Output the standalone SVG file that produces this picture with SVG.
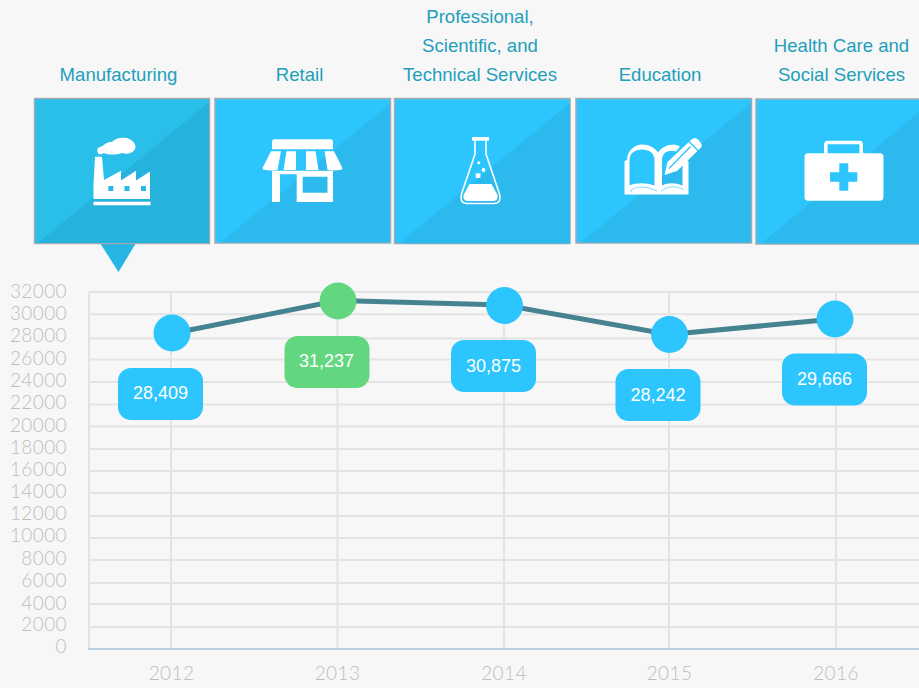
<svg xmlns="http://www.w3.org/2000/svg" width="919" height="688" viewBox="0 0 919 688">
<style>
.cat{font:18.600px "Liberation Sans",Arial,sans-serif;fill:#1f9fbb;text-anchor:middle}
.ax{font:300 19px Lato,"Open Sans",sans-serif;fill:#bebebe;letter-spacing:.4px}
.yl{text-anchor:end}
.xl{text-anchor:middle}
.grid{stroke:#e3e3e3;stroke-width:2;fill:none}
.tile{stroke:#a3abb0;stroke-width:1.5}
.dk{fill:#2bb9ee}
.ic{fill:#fff}
.pt{fill:#2cc5fe}
.val{font:18px "Liberation Sans",Arial,sans-serif;fill:#fff;text-anchor:middle}
</style>
<rect width="919" height="688" fill="#f7f7f7"/>
<g id="grid">
<path class="grid" d="M89 292H919M89 314.300H919M89 338.500H919M89 359.500H919M89 382H919M89 404.500H919M89 426.500H919M89 449H919M89 471H919M89 493H919M89 516H919M89 538H919M89 560H919M89 583H919M89 604H919M89 627H919"/>
<path class="grid" d="M89 292V648M171 292V648M337.500 292V648M504 292V648M669 292V648M836 292V648"/>
<path d="M88 649H919" stroke="#bccfe0" stroke-width="2" fill="none"/>
</g>
<g id="y-axis">
<text class="ax yl" x="67" y="298">32000</text><text class="ax yl" x="67" y="320">30000</text><text class="ax yl" x="67" y="342">28000</text><text class="ax yl" x="67" y="365">26000</text><text class="ax yl" x="67" y="387">24000</text><text class="ax yl" x="67" y="409">22000</text><text class="ax yl" x="67" y="432">20000</text><text class="ax yl" x="67" y="454">18000</text><text class="ax yl" x="67" y="476">16000</text><text class="ax yl" x="67" y="498">14000</text><text class="ax yl" x="67" y="520">12000</text><text class="ax yl" x="67" y="542">10000</text><text class="ax yl" x="67" y="565">8000</text><text class="ax yl" x="67" y="587">6000</text><text class="ax yl" x="67" y="610">4000</text><text class="ax yl" x="67" y="631">2000</text><text class="ax yl" x="67" y="653">0</text>
</g>
<g id="x-axis">
<text class="ax xl" x="171.500" y="680">2012</text><text class="ax xl" x="337.500" y="680">2013</text><text class="ax xl" x="504" y="680">2014</text><text class="ax xl" x="669.500" y="680">2015</text><text class="ax xl" x="836" y="680">2016</text>
</g>
<g id="connectors">
<path d="M172 333.500L338 300.500L504 305L669 334.500L835 319" fill="none" stroke="#44838f" stroke-width="5"/>
</g>
<g id="points">
<circle class="pt" cx="172" cy="333" r="18.500"/>
<circle cx="338" cy="301" r="18.500" fill="#62d77f"/>
<circle class="pt" cx="504.500" cy="305.500" r="18.500"/>
<circle class="pt" cx="669.500" cy="334.500" r="18.500"/>
<circle class="pt" cx="835" cy="319" r="18.500"/>
</g>
<g id="value-28409"><rect class="pt" x="118" y="368" width="85" height="52" rx="13"/><text class="val" x="160.500" y="399">28,409</text></g>
<g id="value-31237"><rect x="284.500" y="336" width="85" height="52" rx="13" fill="#62d77f"/><text class="val" x="326.500" y="367">31,237</text></g>
<g id="value-30875"><rect class="pt" x="451" y="340" width="85" height="52" rx="13"/><text class="val" x="493.500" y="372">30,875</text></g>
<g id="value-28242"><rect class="pt" x="615.500" y="369" width="85" height="52" rx="13"/><text class="val" x="658" y="401">28,242</text></g>
<g id="value-29666"><rect class="pt" x="782" y="353.500" width="85" height="52" rx="13"/><text class="val" x="824.500" y="385">29,666</text></g>

<g id="manufacturing">
<text class="cat" x="118.500" y="81">Manufacturing</text>
<path d="M100 243H136L118.500 272Z" fill="#27b6e3"/>
<rect class="tile" x="34.500" y="98.500" width="175" height="145" fill="#29bfe9"/>
<path d="M38 243L209 102V243Z" fill="#25b3dd"/>
<path class="ic" d="M93.500 199V184L95 156.700H102L104 180L121 170.700V180.500L136 170.700V180.500L150 171.500V199Z"/>
<rect x="93.500" y="201.700" width="57" height="3.600" class="ic"/>
<path class="ic" d="M99 154C96 151 97 148 100 147C103 146 104 145 105 144C108 142 110 142 112 142C115 138 122 137 127 138C133 140 137 145 135 149C133 153 127 155 122 153C116 155 108 155 104 153C102 154 100 155 99 154Z"/>
<g fill="#29bae3"><rect x="108.300" y="186" width="5" height="5"/><rect x="124.500" y="186" width="5" height="5"/><rect x="141" y="186" width="5" height="5"/></g>
</g>

<g id="retail">
<text class="cat" x="299.500" y="81">Retail</text>
<rect class="tile" x="215" y="98.500" width="175.500" height="144.500" fill="#2cc5fe"/>
<path class="dk" d="M220 242.500L390 104V242.500Z"/>
<path class="ic" d="M274 139.300H331Q333 139.300 333 142V149.300H272V142Q272 139.300 274 139.300Z"/>
<path class="ic" d="M271 151.200H281L277.500 170Q270 171 263 169.500Q262 168 263.500 166ZM286.500 151.200H296L296 170H283.500ZM306 151.200H315.500L318.500 170H306ZM324.500 151.200H334L341.500 166Q343 168 342 169.500Q335 171 327.500 170Z"/>
<path class="ic" d="M272 170.700H333V202H296.700V174.300H280V202H272ZM302.700 176.700V192.700H327.500V176.700Z" fill-rule="evenodd"/>
</g>

<g id="professional">
<text class="cat" x="480" y="23">Professional,</text><text class="cat" x="480" y="52">Scientific, and</text><text class="cat" x="480" y="81">Technical Services</text>
<rect class="tile" x="394.500" y="98.500" width="175.500" height="145" fill="#2cc5fe"/>
<path class="dk" d="M399 243.500L570 103V243.500Z"/>
<path d="M475 139.500V154L461.500 194Q459.500 203.500 467 203.500H494Q501.500 203.500 499.500 194L486 154V139.500" fill="none" stroke="#fff" stroke-width="1.600"/>
<path d="M472 137H489V140.700H472Z" class="ic"/>
<path class="ic" d="M469.500 184H491.500L497.500 195Q498.500 201 492.500 201H468.500Q462.500 201 463.500 195Z"/>
<rect class="ic" x="475.700" y="173.300" width="4.700" height="4.700"/><circle class="ic" cx="483.500" cy="170" r="1.900"/><circle class="ic" cx="478.700" cy="162.700" r="1.500"/>
</g>

<g id="education">
<text class="cat" x="660" y="81">Education</text>
<rect class="tile" x="576" y="98.500" width="175.500" height="144.500" fill="#2cc5fe"/>
<path class="dk" d="M581 242.500L751 103V242.500Z"/>
<path class="ic" fill-rule="evenodd" d="M624.500 194.500V161L627 160C627.500 150 635 144.500 642 144.500C649 144.500 655 148 658 152.500C661 148 667 144.500 674 144.500C676 144.500 678 145.500 680 146.500L676 151.500C668 149 662 153 662 160V185.500C668 182.500 675 182.500 682.500 185.500V161H688.500V194.500ZM629.500 160V185.500C636 182.500 646 182.500 654.500 185.500V160C654.500 153 649 149.500 642 149.500C635 149.500 629.500 153 629.500 160Z"/>
<path d="M631 192V190C640 185 648 187 657 191M661 191C668 186 676 185 684 190" stroke="#2cc5fe" stroke-width="1" fill="none" opacity=".6"/>
<path class="ic" d="M664.500 175L667.500 162L691.500 139.500Q695 136.500 698 139.500L701 143Q703 146 700 148.500L677 171Z"/>
<path d="M669 168.500L690.500 146.500M688 140.500L698.500 151" stroke="#2cc5fe" stroke-width="1.300" fill="none"/>
</g>

<g id="health">
<text class="cat" x="841.500" y="52">Health Care and</text><text class="cat" x="841.500" y="81">Social Services</text>
<rect class="tile" x="756" y="99" width="170" height="145" fill="#2cc5fe"/>
<path class="dk" d="M761 243.500L919 112V243.500Z"/>
<path class="ic" d="M808 153.300H880Q883.500 153.300 883.500 157V197Q883.500 200.700 880 200.700H808Q804.500 200.700 804.500 197V157Q804.500 153.300 808 153.300Z"/>
<path d="M825.800 154V145Q825.800 142.500 828 142.500H859Q861.200 142.500 861.200 145V154" fill="none" stroke="#fff" stroke-width="3.600"/>
<path fill="#2cc5fe" d="M839.300 163.300H848.300V172.300H857.300V181.700H848.300V190.700H839.300V181.700H830V172.300H839.300Z"/>
</g>
</svg>
